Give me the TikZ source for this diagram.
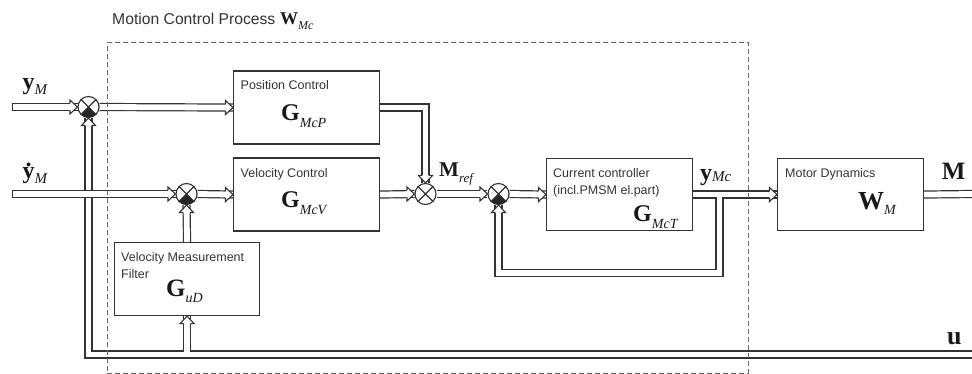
\documentclass[tikz,border=0pt]{standalone}
\usepackage{fontspec}
\setmainfont{Liberation Serif}
\newfontfamily\sansf{Liberation Sans}
\newcommand\subx[3]{\raisebox{-#1pt}{\fontsize{#2}{#2}\selectfont\mdseries\itshape #3}}
\newcommand\ydot{\ooalign{y\cr\hidewidth\raisebox{0.5em}{.}\hidewidth\cr}}
\pgfdeclarelayer{bg}
\pgfsetlayers{bg,main}
\tikzset{
  ahd/.pic={
    \fill[white] (-7.5,-7) -- (0,0) -- (-7.5,7) -- cycle;
    \draw[black!80, line width=1.1pt, line join=miter] (-7.5,-3.5) -- (-7.5,-7) -- (0,0) -- (-7.5,7) -- (-7.5,3.5);
  }
}
\begin{document}
\begin{tikzpicture}[x=1pt,y=-1pt, line join=miter,
  blk/.style={draw=black!80, line width=1.1pt, inner sep=0pt, anchor=north west, minimum width=146pt, minimum height=73pt},
  sumj/.style={circle, draw=black!80, fill=white, line width=1.1pt, minimum size=21pt, inner sep=0pt},
  so/.style={draw=black!80, line width=8.2pt},
  si/.style={draw=white, line width=5.8pt},
  lbl/.style={font=\sansf\fontsize{12.5}{17}\selectfont, text=black!80, anchor=base west, inner sep=0pt, align=left},
  sym/.style={anchor=base west, inner sep=0pt, text=black!90},
  dashbox/.style={draw=black!60, line width=0.9pt, dash pattern=on 5pt off 3pt, anchor=north west, inner sep=0pt}
]
\useasboundingbox (0,0) rectangle (972,374);
% boxes
\node[blk] (pc) at (233,70.5) {};
\node[blk] (vc) at (233,157.5) {};
\node[blk, minimum width=145pt] (fl) at (114,242) {};
\node[blk, minimum height=72pt] (cc) at (546,158) {};
\node[blk, minimum height=72pt] (md) at (777,158) {};
% summing junctions
\node[sumj] (s1) at (88.5,107) {};
\node[sumj] (s2) at (186.5,194) {};
\node[sumj] (s3) at (425.5,194) {};
\node[sumj] (s4) at (498.5,194) {};
% free ends
\coordinate (inA) at (16,107);
\coordinate (inB) at (16,194);
\coordinate (uR) at (972,354.5);
\coordinate (fb1) at (719.5,194);
\coordinate (fb2) at (719.5,273);
\coordinate (mo) at (972,194);
% signal lines
\begin{pgfonlayer}{bg}
 \foreach \st in {so,si}{
   \draw[\st] (uR) -- (s1 |- uR) -- (s1.south);
   \draw[\st] (fl.south |- uR) -- (fl.south);
 }
 \foreach \st in {so,si}{
   \draw[\st, line cap=rect] (inA) -- (s1.west);
   \draw[\st] (s1.east) -- (pc.west);
   \draw[\st] (pc.east) -| (s3.north);
   \draw[\st, line cap=rect] (inB) -- (s2.west);
   \draw[\st] (s2.east) -- (vc.west);
   \draw[\st] (fl.north) -- (s2.south);
   \draw[\st] (vc.east) -- (s3.west);
   \draw[\st] (s3.east) -- (s4.west);
   \draw[\st] (s4.east) -- (cc.west);
   \draw[\st] (cc.east) -- (md.west);
   \draw[\st] (fb1) -- (fb2) -| (s4.south);
   \draw[\st] (md.east) -- (mo);
 }
\end{pgfonlayer}
% summing junction marks
\foreach \s in {s1,s2,s4}{
  \fill[black!85] (\s.center) -- ++(135:10.5) arc[start angle=135, end angle=45, radius=10.5] -- cycle;
}
\foreach \s in {s1,s2,s3,s4}{
  \draw[black!80, line width=1.1pt] (\s.north west) -- (\s.south east) (\s.north east) -- (\s.south west);
}
% arrow heads
\pic at (s1.west) {ahd};
\pic at (pc.west) {ahd};
\pic[rotate=-90] at (s3.north) {ahd};
\pic at (s2.west) {ahd};
\pic at (vc.west) {ahd};
\pic[rotate=90] at (s2.south) {ahd};
\pic at (s3.west) {ahd};
\pic at (s4.west) {ahd};
\pic at (cc.west) {ahd};
\pic at (md.west) {ahd};
\pic[rotate=90] at (s4.south) {ahd};
\pic[rotate=90] at (s1.south) {ahd};
\pic[rotate=90] at (fl.south) {ahd};
% process frame
\node[dashbox, minimum width=641pt, minimum height=330.5pt] (mcp) at (107,42) {};
% texts
\node[lbl, font=\sansf\fontsize{15.7}{18}\selectfont] (ttl) at (112,25) {Motion Control Process};
\node[sym, font=\bfseries\fontsize{18}{18}\selectfont] (twmc) at (280,25) {W\subx{5}{12}{Mc}};
\node[lbl] (tpc) at (240.5,90) {Position Control};
\node[sym, font=\bfseries\fontsize{24}{24}\selectfont] (gp) at (281,121) {G\subx{7}{14}{McP}};
\node[lbl] (tvc) at (240.5,177.5) {Velocity Control};
\node[sym, font=\bfseries\fontsize{24}{24}\selectfont] (gv) at (281,208) {G\subx{7}{14}{McV}};
\node[lbl] (tcc) at (553,194.3) {Current controller\\(incl.PMSM el.part)};
\node[sym, font=\bfseries\fontsize{24}{24}\selectfont] (gt) at (633,221.7) {G\subx{7}{14}{McT}};
\node[lbl] (tmd) at (785,178) {Motor Dynamics};
\node[sym, font=\bfseries\fontsize{26}{26}\selectfont] (wm) at (858,210) {W\subx{5}{14}{M}};
\node[lbl] (tfl) at (121,278) {Velocity Measurement\\Filter};
\node[sym, font=\bfseries\fontsize{25}{25}\selectfont] (gu) at (166,296.7) {G\subx{6}{14}{uD}};
\node[sym, font=\bfseries\fontsize{21}{21}\selectfont] (mref) at (439,176.7) {M\subx{6}{13}{ref}};
\node[sym, font=\bfseries\fontsize{24}{24}\selectfont] (ymc) at (700,181) {y\subx{1}{15}{Mc}};
\node[sym, font=\bfseries\fontsize{25}{25}\selectfont] (mout) at (941.7,179.3) {M};
\node[sym, font=\bfseries\fontsize{26}{26}\selectfont] (ul) at (947,344) {u};
\node[sym, font=\bfseries\fontsize{24}{24}\selectfont] (ym) at (22.5,90) {y\subx{5}{15}{M}};
\node[sym, font=\bfseries\fontsize{24}{24}\selectfont] (ydm) at (22.5,179) {\ydot\subx{5}{15}{M}};
\end{tikzpicture}
\end{document}
